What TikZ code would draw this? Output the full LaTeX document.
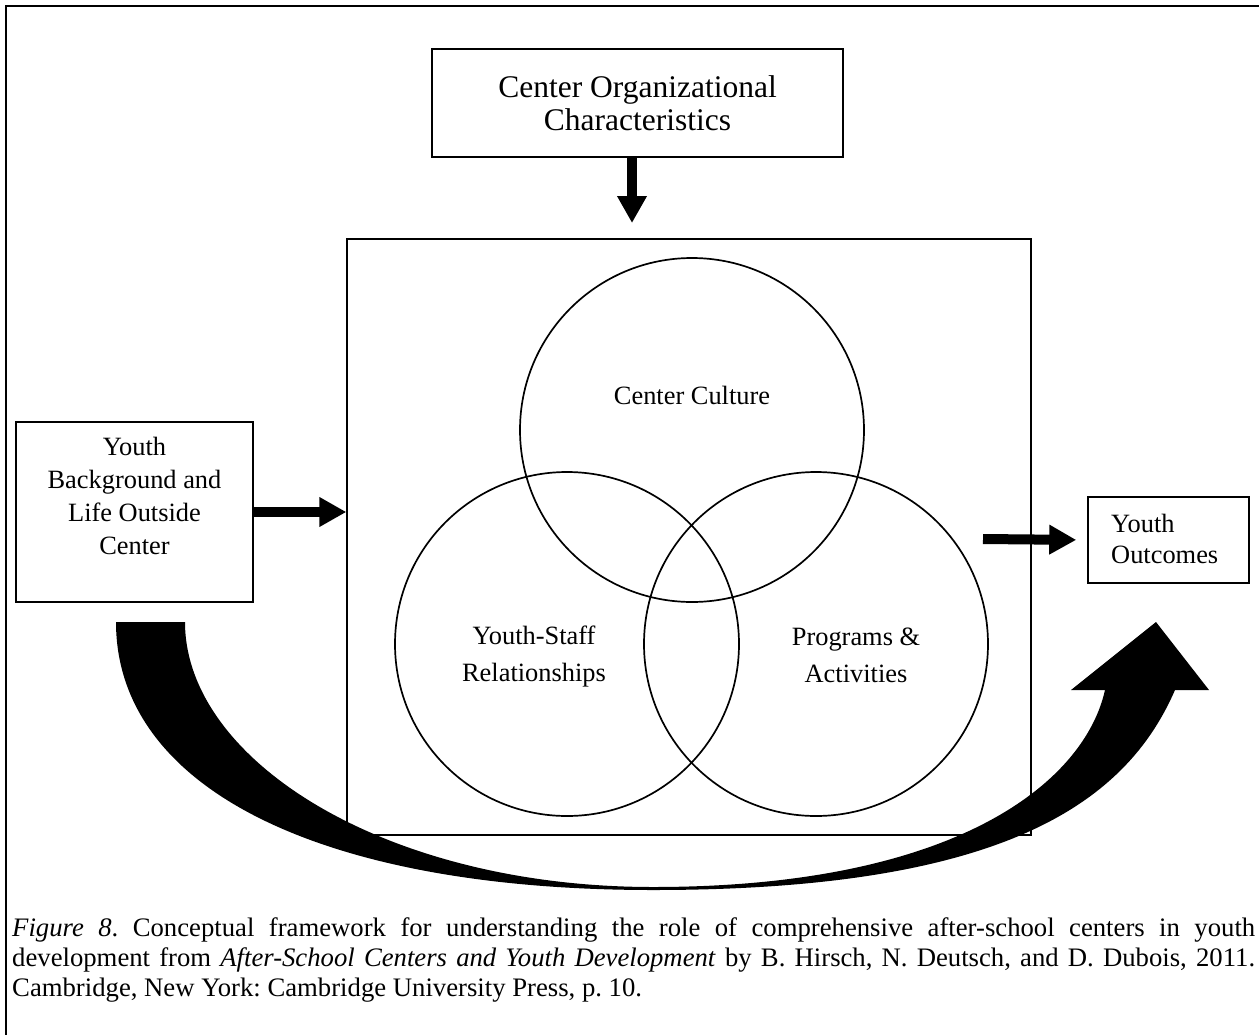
\documentclass[tikz,border=0pt]{standalone}
\usepackage{fontspec}
\setmainfont{Liberation Serif}
\usetikzlibrary{arrows.meta}

\begin{document}
\frenchspacing
\begin{tikzpicture}[x=1pt,y=1pt,yscale=-1,xscale=1,
  boxline/.style={draw, line width=1.5pt, inner sep=0pt},
  ring/.style={draw, circle, line width=1.7pt, minimum size=344pt, inner sep=0pt},
  labeltext/.style={align=center, inner sep=0pt, font=\fontsize{26.4}{35}\selectfont},
  blockarrow/.style={line width=10pt, -{Triangle[length=27pt,width=28pt]}}]
\useasboundingbox (0,0) rectangle (1259,1034);

%Straight Lines: page frame
\draw [line width=2.5pt] (6,1040) -- (6,6) -- (1265,6);

%Shape: Rectangle
\draw (637.5,103) node (org) [boxline, minimum width=411pt, minimum height=108pt, align=center,
  font=\fontsize{31.5}{33}\selectfont] {Center Organizational\\Characteristics};
%Shape: Square
\draw (689,537) node (frame) [draw, line width=1.3pt, minimum width=684pt, minimum height=596pt] {};
%Shape: Rectangle
\draw (134.5,512) node (bg) [boxline, minimum width=237pt, minimum height=180pt] {};
%Shape: Rectangle
\draw (1168.5,540) node (out) [boxline, minimum width=161pt, minimum height=86pt] {};

%Shape: Circle
\draw (692,430) node (culture) [ring] {};
%Shape: Circle
\draw (567,644) node (staff) [ring] {};
%Shape: Circle
\draw (816,644) node (progs) [ring] {};

% Text Node
\draw (692,395) node (culturetext) [labeltext] {Center Culture};
% Text Node
\draw (534,657) node (stafftext) [labeltext, font=\fontsize{26.4}{37}\selectfont] {Youth-Staff\\Relationships};
% Text Node
\draw (856,655) node (progstext) [labeltext, font=\fontsize{26.4}{37}\selectfont] {Programs \&\\Activities};
% Text Node
\draw (134.5,496) node (bgtext) [labeltext, font=\fontsize{26.4}{33.3}\selectfont] {Youth\\Background and\\Life Outside\\Center};
% Text Node
\draw (1111,539) node (outtext) [labeltext, anchor=west, align=left, font=\fontsize{26.4}{31}\selectfont] {Youth\\Outcomes};

%Straight Lines
\coordinate (orgtip) at (632,223);
\coordinate (outtail) at (983,539);
\draw [blockarrow] (org.south -| orgtip) -- (orgtip);
\draw [blockarrow] (bg.east) -- (bg.east -| frame.west);
\draw [blockarrow, shorten >=11pt] (outtail) -- (out.west);

%Curve Lines: big curved arrow
\fill (116,622) .. controls (116,788) and (320,890) .. (653,890)
  .. controls (1000,890) and (1125,805) .. (1175,690)
  -- (1209,690) -- (1156,622) -- (1071,690) -- (1105,690)
  .. controls (1085,780) and (960,887) .. (653,887)
  .. controls (385,887) and (185,760) .. (185,622) -- cycle;

% Text Node: caption
\draw (12,917) node (caption) [anchor=north west, inner sep=0pt, text width=1243pt, align=justify,
  font=\fontsize{26.7}{30}\selectfont]
  {\textit{Figure 8}. Conceptual framework for understanding the role of comprehensive after-school centers in youth\linebreak
  development from \textit{After-School Centers and Youth Development} by B. Hirsch, N. Deutsch, and D. Dubois, 2011.\linebreak
  Cambridge, New York: Cambridge University Press, p. 10.};

\end{tikzpicture}
\end{document}
